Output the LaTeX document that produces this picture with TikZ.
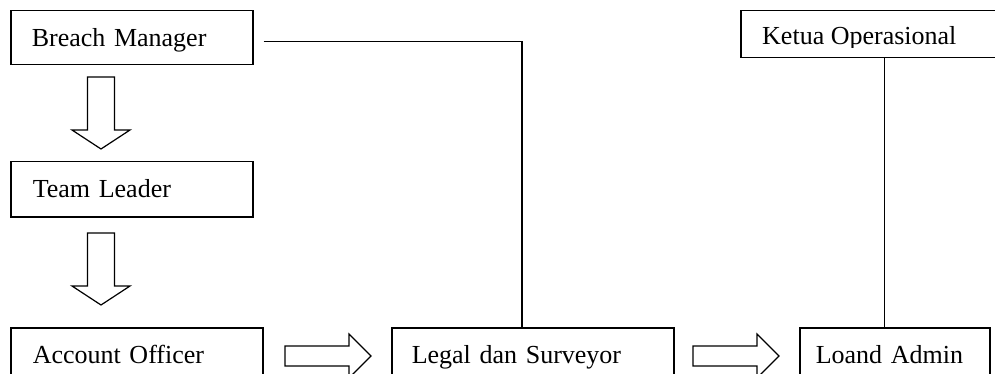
\documentclass[tikz,border=0pt]{standalone}
\usepackage{fontspec}
\setmainfont{Liberation Serif}
\usetikzlibrary{calc}
\tikzset{
    StaffBox/.style = {
        draw,
        line width=1.5pt,
        anchor=north west,
        inner xsep=20pt,
        inner ysep=0pt,
        align=left,
        text height=21pt,
        text depth=4pt,
        font=\fontsize{26}{30}\selectfont,
        },
    link/.style = {
        line width=1.4pt,
        },
    block arrow/.style = {
        draw,
        line width=1.2pt,
        fill=white,
        line join=miter,
        },
}

\begin{document}
\begin{tikzpicture}[x=1pt, y=-1pt]
    \useasboundingbox (0,0) rectangle (995,374);
    \clip (0,0) rectangle (995,374);

    % left column
    \node [StaffBox, inner xsep=21pt, text width=200pt, minimum height=54pt] (breach) at (10,10) {Breach Manager};
    \node [StaffBox, inner xsep=22pt, text width=198pt, minimum height=55pt] (leader) at (10,161) {Team Leader};
    \node [StaffBox, inner xsep=22pt, text width=208pt, minimum height=55pt] (officer) at (10,327) {Account Officer};

    % bottom row
    \node [StaffBox, text width=242pt, minimum height=55pt] (legal) at (391,327) {Legal dan Surveyor};
    \node [StaffBox, inner xsep=16pt, text width=158pt, minimum height=55pt] (admin) at (799,327) {Loand Admin};

    % top right, text is cut by the frame
    \node [StaffBox, text width=256pt, minimum height=47pt] (ketua) at (740,10) {};
    \begin{scope}
        \clip (ketua.north west) rectangle ([yshift=11pt]ketua.south east);
        \node [font=\fontsize{26}{30}\selectfont, anchor=base west, inner sep=0pt] (ketua text) at (762,45) {Ketua Operasional};
    \end{scope}

    % lines
    \coordinate (breach out) at ([xshift=10pt, yshift=-4pt]breach.east);
    \draw [link] (breach out) -| ([xshift=131pt]legal.north west);
    \draw [link] ([xshift=-10pt]admin.north) -- ([xshift=-10pt]admin.north |- ketua.south);

    % block arrows
    \coordinate (down a) at (101,77);
    \coordinate (down b) at (101,233);
    \coordinate (right a) at (285,356.5);
    \coordinate (right b) at (693,356.5);

    \draw [block arrow] (down a) ++(-13.5,0) -- ++(27,0) -- ++(0,53) -- ++(15.5,0) -- ++(-29,19) -- ++(-29,-19) -- ++(15.5,0) -- cycle;
    \draw [block arrow] (down b) ++(-13.5,0) -- ++(27,0) -- ++(0,53) -- ++(15.5,0) -- ++(-29,19) -- ++(-29,-19) -- ++(15.5,0) -- cycle;
    \draw [block arrow] (right a) ++(0,-10.5) -- ++(64,0) -- ++(0,-12) -- ++(22,22) -- ++(-22,22) -- ++(0,-12) -- ++(-64,0) -- cycle;
    \draw [block arrow] (right b) ++(0,-10.5) -- ++(64,0) -- ++(0,-12) -- ++(22,22) -- ++(-22,22) -- ++(0,-12) -- ++(-64,0) -- cycle;
\end{tikzpicture}
\end{document}
